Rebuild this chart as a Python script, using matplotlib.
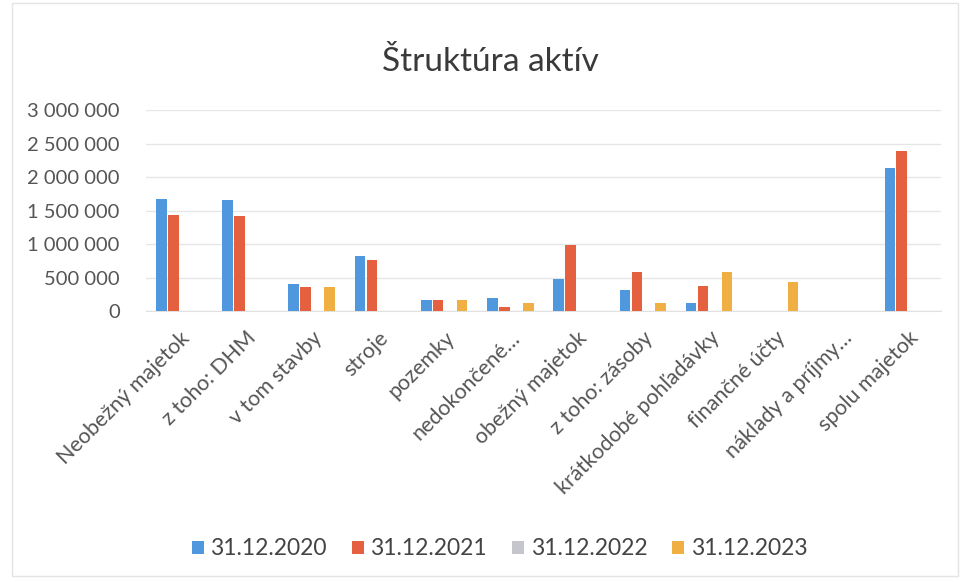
import numpy as np
import matplotlib.pyplot as plt
from matplotlib.ticker import FuncFormatter

plt.rcParams['font.family'] = ['Lato', 'DejaVu Sans']

# data
categories = ['Neobežný majetok', 'z toho: DHM', 'v tom stavby', 'stroje',
              'pozemky', 'nedokončené…', 'obežný majetok', 'z toho: zásoby',
              'krátkodobé pohľadávky', 'finančné účty', 'náklady a príjmy…',
              'spolu majetok']
series_names = ['31.12.2020', '31.12.2021', '31.12.2022', '31.12.2023']
v2020 = [1670000, 1660000, 400000, 820000, 160000, 190000, 480000, 320000,
         120000, 0, 0, 2130000]
v2021 = [1440000, 1420000, 360000, 760000, 160000, 65000, 985000, 580000,
         380000, 0, 0, 2390000]
v2022 = [0] * 12
v2023 = [0, 0, 360000, 0, 160000, 125000, 0, 115000, 580000, 440000, 0, 0]
colors = ['#4F98DE', '#E5603F', '#C4C6CC', '#F0AF43']


def fmt(v, pos):
    return f'{int(v):,}'.replace(',', ' ')


def main():
    fig = plt.figure(figsize=(9.61, 5.82), dpi=100)
    ax = fig.add_axes([0.152, 0.4656, 0.827, 0.3454])

    x = np.arange(len(categories))
    w = 0.16
    step = 0.18
    for i, (name, vals) in enumerate(zip(series_names, [v2020, v2021, v2022, v2023])):
        ax.bar(x + (i - 1.5) * step, vals, w, color=colors[i], label=name, zorder=3)

    ax.set_xlim(-0.5, len(categories) - 0.5)
    ax.set_ylim(0, 3000000)
    ax.set_yticks(np.arange(0, 3000001, 500000))
    ax.yaxis.set_major_formatter(FuncFormatter(fmt))
    ax.grid(axis='y', color='#E6E6E6', linewidth=1, zorder=0)
    for s in ['top', 'right', 'left']:
        ax.spines[s].set_visible(False)
    ax.spines['bottom'].set_color('#E0E0E0')
    ax.tick_params(axis='both', length=0, colors='#555555')
    ax.tick_params(axis='y', pad=19, labelsize=14.5)
    ax.tick_params(axis='x', pad=12)
    ax.set_xticks(x)
    ax.set_xticklabels(categories, rotation=45, ha='right',
                       rotation_mode='anchor', fontsize=15.5, color='#555555')

    fig.text(0.51, 0.893, 'Štruktúra aktív', ha='center', va='center',
             fontsize=24, color='#3A3A3A')

    fig.legend(loc='center', bbox_to_anchor=(0.52, 0.057), ncol=4,
               frameon=False, fontsize=16.5, handlelength=0.5, handleheight=0.5,
               handletextpad=0.3, columnspacing=1.1, labelcolor='#444444')

    # light frame of the chart area
    fig.patches.append(plt.Rectangle((0.012, 0.01), 0.985, 0.985,
                                     transform=fig.transFigure, fill=False,
                                     edgecolor='#E4E4E4', linewidth=1))

    fig.savefig('out.png', dpi=100)


if __name__ == "__main__":
    main()
